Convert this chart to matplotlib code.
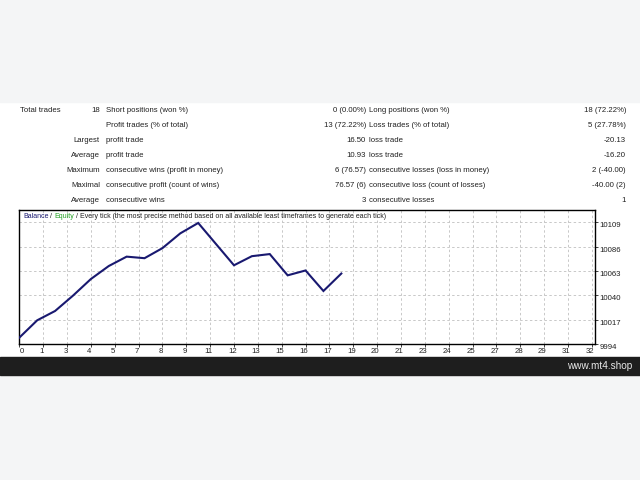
import matplotlib
matplotlib.use('Agg')
import matplotlib.pyplot as plt
import matplotlib.transforms as mtrans
from matplotlib.patches import Rectangle

# report table (one list per column)
row_heads = ['Total trades', '', 'Largest', 'Average', 'Maximum', 'Maximal', 'Average']
row_counts = ['18', '', '', '', '', '', '']
left_names = ['Short positions (won %)', 'Profit trades (% of total)', 'profit trade', 'profit trade',
              'consecutive wins (profit in money)', 'consecutive profit (count of wins)', 'consecutive wins']
left_values = ['0 (0.00%)', '13 (72.22%)', '16.50', '10.93', '6 (76.57)', '76.57 (6)', '3']
right_names = ['Long positions (won %)', 'Loss trades (% of total)', 'loss trade', 'loss trade',
               'consecutive losses (loss in money)', 'consecutive loss (count of losses)', 'consecutive losses']
right_values = ['18 (72.22%)', '5 (27.78%)', '-20.13', '-16.20', '2 (-40.00)', '-40.00 (2)', '1']

# balance after each trade
trades = list(range(19))
balance = [10000, 10016.4, 10025.2, 10039.7, 10055.4, 10067.7, 10076.57, 10075.1, 10084.6, 10098.6,
           10108.4, 10088.4, 10068.4, 10077.0, 10079.0, 10058.9, 10063.5, 10044.1, 10060.6]

xtick_pos = [k * 4 / 3 for k in range(25)]
xtick_labels = [str(round(v)) for v in xtick_pos]
ytick_vals = [9994, 10017, 10040, 10063, 10086, 10109]

W, H = 640, 480
fs = 5.6
fs_title = 5.0
txt_col = '#202020'
plt.rcParams['font.family'] = ['Liberation Sans', 'DejaVu Sans']


def fx(px):
    return px / W


def fy(py):
    return 1 - py / H


fig = plt.figure(figsize=(6.4, 4.8), dpi=100)
fig.patch.set_facecolor('white')
fig.patches.append(Rectangle((0, fy(102)), 1, 102 / H, transform=fig.transFigure, color='#f4f5f6', zorder=0))
fig.patches.append(Rectangle((0, 0), 1, fy(375), transform=fig.transFigure, color='#f4f5f6', zorder=0))
fig.patches.append(Rectangle((0, fy(375)), 1, 18 / H, transform=fig.transFigure, color='#1e1e1e', zorder=0))
fig.text(fx(632), fy(366), 'www.mt4.shop', color='#e8e8e8', fontsize=7.2, ha='right', va='center')

row_y = [110 + 15 * i for i in range(7)]
for i, y in enumerate(row_y):
    if i == 0:
        fig.text(fx(20), fy(y), row_heads[i], fontsize=fs, color=txt_col, ha='left', va='center')
    else:
        fig.text(fx(100), fy(y), row_heads[i], fontsize=fs, color=txt_col, ha='right', va='center')
    fig.text(fx(100), fy(y), row_counts[i], fontsize=fs, color=txt_col, ha='right', va='center')
    fig.text(fx(106), fy(y), left_names[i], fontsize=fs, color=txt_col, ha='left', va='center')
    fig.text(fx(366), fy(y), left_values[i], fontsize=fs, color=txt_col, ha='right', va='center')
    fig.text(fx(369), fy(y), right_names[i], fontsize=fs, color=txt_col, ha='left', va='center')
    fig.text(fx(626), fy(y), right_values[i], fontsize=fs, color=txt_col, ha='right', va='center')

ax = fig.add_axes([fx(19.3), fy(344), (595.3 - 19.3) / W, (344 - 210) / H])
ax.plot(trades, balance, color='#191970', lw=1.5, solid_joinstyle='miter', zorder=3)
ax.set_xlim(0, (595.3 - 19.3) / 17.89)
ax.set_ylim(9994, 9994 + 134 / 1.058)
ax.set_xticks(xtick_pos)
ax.set_xticklabels(xtick_labels)
ax.set_yticks(ytick_vals)
ax.yaxis.tick_right()
ax.tick_params(axis='both', labelsize=fs, colors=txt_col, length=2, width=0.6, pad=1)
ax.grid(True, linestyle=(0, (2.5, 2.5)), color='#c8c8c8', lw=0.7)
for s in ax.spines.values():
    s.set_linewidth(1.0)
    s.set_color('black')

# small shifts of tick labels like the terminal draws them
for lab in ax.get_yticklabels():
    lab.set_transform(lab.get_transform() + mtrans.ScaledTranslation(0, -1.8 / 72, fig.dpi_scale_trans))
for lab in ax.get_xticklabels()[1:]:
    lab.set_transform(lab.get_transform() + mtrans.ScaledTranslation(-1.2 / 72, 0, fig.dpi_scale_trans))
ax.get_xticklabels()[0].set_transform(ax.get_xticklabels()[0].get_transform()
                                      + mtrans.ScaledTranslation(2.0 / 72, 0, fig.dpi_scale_trans))

# header line inside the chart: coloured words placed one after another
pieces = [('Balance', '#191970'), (' / ', txt_col), ('Equity', '#22a022'),
          (' / Every tick (the most precise method based on all available least timeframes to generate each tick)',
           txt_col)]
fig.canvas.draw()
r = fig.canvas.get_renderer()
x0 = 23
for s, c in pieces:
    t = fig.text(fx(x0), fy(216), s, fontsize=fs_title, color=c, va='center', ha='left')
    bb = t.get_window_extent(r)
    x0 = bb.x1

fig.savefig('out.png', dpi=100)
